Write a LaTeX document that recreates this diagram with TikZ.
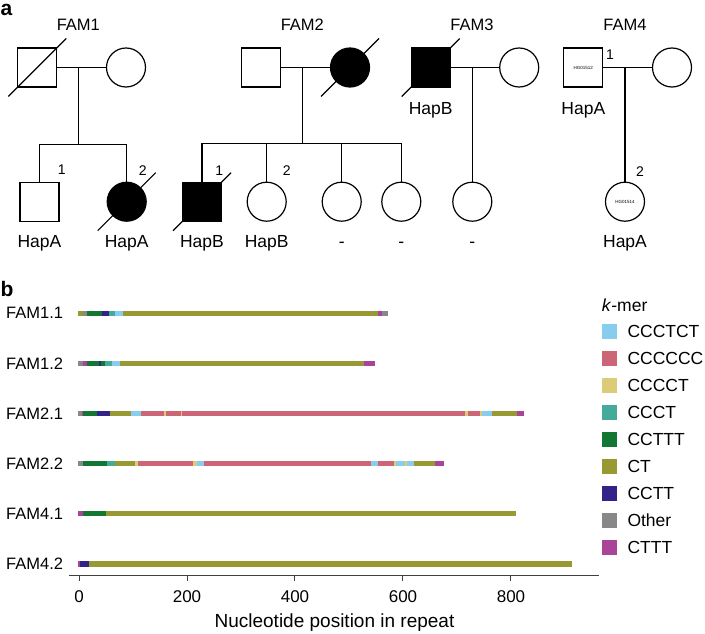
\documentclass[tikz,border=0pt]{standalone}
\usepackage{fontspec}
\setmainfont{Liberation Sans}
\usepackage{tikz}
\usetikzlibrary{positioning}
\definecolor{ccctct}{HTML}{88CCEE}
\definecolor{cccccc}{HTML}{CC6677}
\definecolor{ccccct}{HTML}{DDCC77}
\definecolor{ccct}{HTML}{44AA99}
\definecolor{ccttt}{HTML}{117733}
\definecolor{ct}{HTML}{999933}
\definecolor{cctt}{HTML}{332288}
\definecolor{othr}{HTML}{888888}
\definecolor{cttt}{HTML}{AA4499}
\tikzset{
  male/.style={
    rectangle, draw, line width=1.2pt,
    minimum size=39pt, inner sep=0pt
  },
  female/.style={
    circle, draw, line width=1.2pt,
    minimum size=39pt, inner sep=0pt
  },
  affected/.style={fill=black},
  link/.style={line width=1.2pt},
  slash/.style={line width=1.2pt},
  panel/.style={font=\fontsize{21}{24}\selectfont\bfseries, inner sep=0pt, anchor=base west},
  famlabel/.style={font=\fontsize{16.5}{19}\selectfont, inner sep=0pt, anchor=base},
  hap/.style={
    font=\fontsize{17.5}{20}\selectfont, inner sep=0pt,
    text height=12pt, text depth=3.5pt
  },
  num/.style={font=\fontsize{14}{16}\selectfont, inner sep=0pt},
  sample/.style={font=\fontsize{4.5}{5}\selectfont},
  rowlabel/.style={font=\fontsize{16.5}{19}\selectfont, inner sep=0pt, anchor=east},
  ticklabel/.style={font=\fontsize{17}{20}\selectfont, inner sep=0pt},
  legtext/.style={font=\fontsize{17.5}{20}\selectfont, inner sep=0pt, anchor=west},
  axis/.style={line width=1pt, draw=black!75},
}

\begin{document}
\begin{tikzpicture}[x=1pt, y=-1pt]
  \useasboundingbox (0,0) rectangle (705,634);

  \node[panel] (pa) at (0.5,16)  {a};
  \node[panel] (pb) at (0.5,296.7) {b};

  \node[famlabel] (fam1) at (78.3,31)  {FAM1};
  \node[famlabel] (fam2) at (302.3,31) {FAM2};
  \node[famlabel] (fam3) at (472,31)   {FAM3};
  \node[famlabel] (fam4) at (625,31)   {FAM4};

  % FAM1
  \node (f1dad)  [male]             at (37.3,67.5)  {};
  \node (f1mum)  [female]           at (126,67.5)   {};
  \node (f1kid1) [male]             at (39.5,201.7) {};
  \node (f1kid2) [female, affected] at (126.7,201.7) {};
  \coordinate (f1m) at (78.3,67.5);
  \coordinate (f1s) at (78.3,144.3);
  \node[num] (f1n1) at (61.7,170)  {1};
  \node[num] (f1n2) at (142.7,170.7) {2};
  \node (f1h1) [hap, below=13.5pt of f1kid1] {HapA};
  \node (f1h2) [hap, below=13.5pt of f1kid2] {HapA};

  % FAM2
  \node (f2dad)  [male]             at (260.8,67.5) {};
  \node (f2mum)  [female, affected] at (350,67.5)   {};
  \node (f2kid1) [male, affected]   at (202,201.7)  {};
  \node (f2kid2) [female]           at (266.7,201.7) {};
  \node (f2kid3) [female]           at (341.7,201.7) {};
  \node (f2kid4) [female]           at (401.3,201.7) {};
  \coordinate (f2m) at (302.3,67.5);
  \coordinate (f2s) at (302.3,143.3);
  \node[num] (f2n1) at (219.3,170.7) {1};
  \node[num] (f2n2) at (286.7,170.7) {2};
  \node (f2h1) [hap, below=13.5pt of f2kid1] {HapB};
  \node (f2h2) [hap, below=13.5pt of f2kid2] {HapB};
  \node (f2h3) [hap, below=13.5pt of f2kid3] {-};
  \node (f2h4) [hap, below=13.5pt of f2kid4] {-};

  % FAM3
  \node (f3dad) [male, affected] at (430.7,67.5) {};
  \node (f3mum) [female]         at (519.2,67.5) {};
  \node (f3kid) [female]         at (472.3,201.7) {};
  \coordinate (f3m) at (472.3,67.5);
  \node (f3h0) [hap, below=14.5pt of f3dad] {HapB};
  \node (f3h1) [hap, below=13.5pt of f3kid] {-};

  % FAM4
  \node (f4dad) [male, sample]   at (583.3,67.5) {HG01512};
  \node (f4mum) [female]         at (672,67.5)   {};
  \node (f4kid) [female, sample] at (625,201.7)  {HG01514};
  \coordinate (f4m) at (625,67.5);
  \node[num] (f4n1) at (610,55)    {1};
  \node[num] (f4n2) at (640,171.7) {2};
  \node (f4h0) [hap, below=14.5pt of f4dad] {HapA};
  \node (f4h1) [hap, below=13.5pt of f4kid] {HapA};

  \draw[link] (f1dad) -- (f1mum);
  \draw[link] (f1m) -- (f1s);
  \draw[link] (f1kid1.north) |- (f1s) -| (f1kid2.north);
  \draw[link] (f2dad) -- (f2mum);
  \draw[link] (f2m) -- (f2s);
  \draw[link] (f2kid1.north) |- (f2s) -| (f2kid4.north);
  \draw[link] (f2kid2.north) -- (f2kid2.north |- f2s);
  \draw[link] (f2kid3.north) -- (f2kid3.north |- f2s);
  \draw[link] (f3dad) -- (f3mum);
  \draw[link] (f3m) -- (f3kid);
  \draw[link] (f4dad) -- (f4mum);
  \draw[link] (f4m) -- (f4kid);

  \foreach \n in {f1dad,f1kid2,f2mum,f2kid1,f3dad}
    \draw[slash] (\n.center) ++(-29,29) -- ++(58,-58);

  % repeat composition
  \node[rowlabel] (r11) at (63.3,313.3) {FAM1.1};
  \node[rowlabel] (r12) at (63.3,363.3) {FAM1.2};
  \node[rowlabel] (r21) at (63.3,413.3) {FAM2.1};
  \node[rowlabel] (r22) at (63.3,463.5) {FAM2.2};
  \node[rowlabel] (r41) at (63.3,513.5) {FAM4.1};
  \node[rowlabel] (r42) at (63.3,564)   {FAM4.2};

  \begin{scope}[shift={(79,0)}, x=0.54pt]
    \foreach \a/\b/\c in {-2/8/ct, 8/14/othr, 14/42/ccttt, 42/56/cctt, 56/67/ccct,
        67/81/ccctct, 81/554/ct, 554/562/cttt, 562/572/othr}
      \fill[\c] (\a,310.7) rectangle (\b,315.9);
    \foreach \a/\b/\c in {-2/7/othr, 7/14/cttt, 14/37/ccttt, 37/40/cctt, 40/48/ccttt,
        48/61/ccct, 61/76/ccctct, 76/528/ct, 528/548/cttt}
      \fill[\c] (\a,360.7) rectangle (\b,365.9);
    \foreach \a/\b/\c in {-2/5/othr, 5/8/cttt, 8/33/ccttt, 33/57/cctt, 57/96/ct,
        96/114/ccctct, 114/158/cccccc, 158/162/ccccct, 162/189/cccccc, 189/191/ccccct,
        191/715/cccccc, 715/720/ccccct, 720/743/cccccc, 743/746/ccccct,
        746/765/ccctct, 765/811/ct, 811/824/cttt}
      \fill[\c] (\a,410.7) rectangle (\b,415.9);
    \foreach \a/\b/\c in {-2/8/othr, 8/52/ccttt, 52/67/ccct, 67/104/ct, 104/109/ccccct,
        109/211/cccccc, 211/218/ccccct, 218/232/ccctct, 232/540/cccccc,
        540/554/ccctct, 554/583/cccccc, 583/587/ccccct, 587/604/ccctct,
        604/607/ccccct, 607/621/ccctct, 621/659/ct, 659/676/cttt}
      \fill[\c] (\a,460.9) rectangle (\b,466.1);
    \foreach \a/\b/\c in {-2/8/cttt, 8/50/ccttt, 50/809/ct}
      \fill[\c] (\a,510.9) rectangle (\b,516.1);
    \foreach \a/\b/\c in {-2/2/cttt, 2/19/cctt, 19/913/ct}
      \fill[\c] (\a,561.4) rectangle (\b,566.6);

    \draw[axis] (-18.5,575) -- (963.5,575);
    \foreach \t in {0,200,...,800} {
      \draw[axis] (\t,575) -- (\t,581);
      \node[ticklabel] (t\t) at (\t,597) {\t};
    }
  \end{scope}
  \node[ticklabel, font=\fontsize{19}{22}\selectfont] (xlab) at (334.5,623) {Nucleotide position in repeat};

  \node[legtext] (kmer) at (601.7,305) {\textit{k}-mer};
  \foreach \name/\col [count=\i from 0] in {CCCTCT/ccctct, CCCCCC/cccccc, CCCCT/ccccct,
      CCCT/ccct, CCTTT/ccttt, CT/ct, CCTT/cctt, Other/othr, CTTT/cttt} {
    \fill[\col] (601.7,323.7+27*\i) rectangle ++(15.6,15.6);
    \node[legtext] (leg\i) at (627.3,331.5+27*\i) {\name};
  }
\end{tikzpicture}
\end{document}
